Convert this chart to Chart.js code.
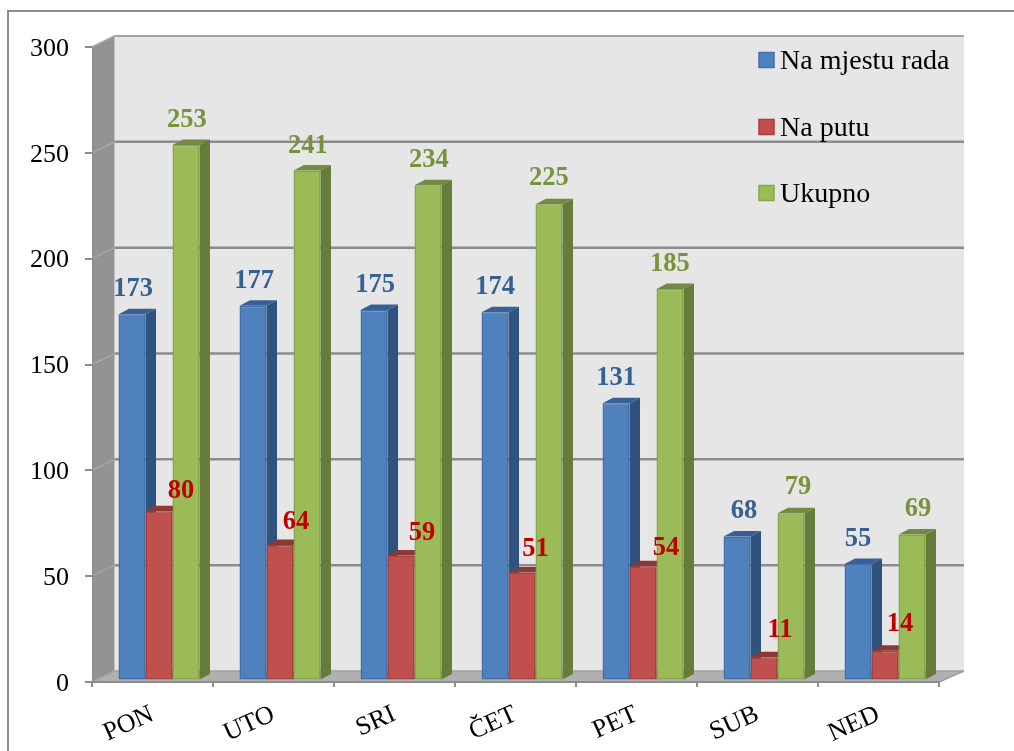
<!DOCTYPE html>
<html lang="hr">
<head>
<meta charset="utf-8">
<title>Chart</title>
<script src="https://cdn.jsdelivr.net/npm/chart.js@4"></script>
<style>html,body{margin:0;padding:0;background:#fff;overflow:hidden}canvas{display:block;filter:blur(0.3px)}</style>
</head>
<body>
<canvas id="c" width="1014" height="751"></canvas>
<script>
const categories = ['PON','UTO','SRI','ČET','PET','SUB','NED'];
const naMjestuRada = [173,177,175,174,131,68,55];
const naPutu = [80,64,59,51,54,11,14];
const ukupno = [253,241,234,225,185,79,69];
const seriesNames = ['Na mjestu rada','Na putu','Ukupno'];
const yTicksStep = 50;
const yMax = 300;

// label nudges (dx, lift above the front face of the bar)
const blueLabelNudge = [[1,25],[1,25],[1,25],[0,25],[0,25],[7,25],[0,25]];
const redLabelNudge = [[22,20],[16,23],[21,22],[13.5,23],[23,18],[16,27],[15,27]];
const greenLabelNudge = [[1,25],[1,24],[1,25],[0,26],[0,25],[7,26],[6,25]];
const labelNudges = [blueLabelNudge, redLabelNudge, greenLabelNudge];

const front = ['#4f81bd','#c0504d','#9bbb59'];
const edge = ['#3f70aa','#a5403d','#86a64a'];
const side = ['#30527e','#843330','#667c3a'];
const topFace = ['#386096','#8c3836','#728a41'];
const labelColor = ['#376092','#c00000','#77933c'];

const SERIF = '"Liberation Serif","Times New Roman",serif';
const WALL_DX = 22.5, WALL_DY = -11;
const BAR_DX = 10.5, BAR_DY = -5.5;
const SHIFT_X = 6.5, SHIFT_Y = -1.5;
const GRAY = '#8c8c8c';

function poly(ctx, pts, fill, stroke, lw){
  ctx.beginPath();
  pts.forEach((p,i)=> i ? ctx.lineTo(p[0],p[1]) : ctx.moveTo(p[0],p[1]));
  ctx.closePath();
  if(fill){ctx.fillStyle=fill;ctx.fill();}
  if(stroke){ctx.strokeStyle=stroke;ctx.lineWidth=lw||1;ctx.stroke();}
}

const scene3d = {
  id:'scene3d',
  beforeDraw(chart){
    const {ctx, chartArea:a, scales:{y}} = chart;
    const L=a.left,R=a.right,T=a.top,B=a.bottom;
    ctx.save();
    // outer frame
    ctx.strokeStyle=GRAY;ctx.lineWidth=2;
    ctx.beginPath();ctx.moveTo(8,751);ctx.lineTo(8,11);ctx.lineTo(1014,11);ctx.stroke();
    // back wall
    poly(ctx,[[L+WALL_DX,T+WALL_DY],[R+WALL_DX+2.5,T+WALL_DY],[R+WALL_DX+2.5,B+WALL_DY],[L+WALL_DX,B+WALL_DY]],'#e6e6e6');
    // side wall
    poly(ctx,[[L,T],[L+WALL_DX,T+WALL_DY],[L+WALL_DX,B+WALL_DY],[L,B]],'#939393');
    // floor
    poly(ctx,[[L,B],[L+WALL_DX,B+WALL_DY],[R+WALL_DX+2.5,B+WALL_DY],[R,B]],'#b0b0b0');
    // grid on walls
    y.ticks.forEach(t=>{
      const py=y.getPixelForValue(t.value);
      ctx.strokeStyle = '#a6a6a6';
      ctx.lineWidth=1.5;
      ctx.beginPath();ctx.moveTo(L,py);ctx.lineTo(L+WALL_DX,py+WALL_DY);ctx.stroke();
      ctx.strokeStyle=GRAY;
      ctx.lineWidth= t.value===yMax ? 1.5 : 2.5;
      if(t.value===0){ctx.lineWidth=1.5;ctx.strokeStyle='#a0a0a0';}
      ctx.beginPath();ctx.moveTo(L+WALL_DX,py+WALL_DY);ctx.lineTo(R+WALL_DX+2.5,py+WALL_DY);ctx.stroke();
    });
    // floor front-right edge
    ctx.strokeStyle='#a0a0a0';ctx.lineWidth=1.5;
    ctx.beginPath();ctx.moveTo(R,B);ctx.lineTo(R+WALL_DX+2.5,B+WALL_DY);ctx.stroke();
    ctx.restore();
  },
  beforeDatasetsDraw(chart){
    const ctx=chart.ctx;
    ctx.save();
    ctx.translate(SHIFT_X,SHIFT_Y);
    chart.data.datasets.forEach((ds,i)=>{
      chart.getDatasetMeta(i).data.forEach(b=>{
        const l=b.x-b.width/2,r=b.x+b.width/2,t=b.y,bs=b.base;
        poly(ctx,[[r,t],[r+BAR_DX,t+BAR_DY],[r+BAR_DX,bs+BAR_DY],[r,bs]],side[i]);
        poly(ctx,[[l,t],[l+BAR_DX,t+BAR_DY],[r+BAR_DX,t+BAR_DY],[r,t]],topFace[i]);
      });
    });
  },
  afterDatasetsDraw(chart){
    const ctx=chart.ctx;
    ctx.restore();
    ctx.save();
    ctx.font='bold 26.5px '+SERIF;
    ctx.textAlign='center';ctx.textBaseline='middle';
    chart.data.datasets.forEach((ds,i)=>{
      ctx.fillStyle=labelColor[i];
      chart.getDatasetMeta(i).data.forEach((b,k)=>{
        const n=labelNudges[i][k];
        ctx.fillText(String(ds.data[k]),b.x+SHIFT_X+n[0],b.y+SHIFT_Y-n[1]);
      });
    });
    ctx.restore();
  },
  afterDraw(chart){
    const ctx=chart.ctx;
    ctx.save();
    const rows=[60,127,193];
    ctx.font='28px '+SERIF;ctx.textAlign='left';ctx.textBaseline='middle';
    chart.data.datasets.forEach((ds,i)=>{
      ctx.fillStyle=front[i];ctx.strokeStyle=edge[i];ctx.lineWidth=1.5;
      ctx.fillRect(759,rows[i]-7.5,15,15);ctx.strokeRect(759,rows[i]-7.5,15,15);
      ctx.fillStyle='#000';
      ctx.fillText(ds.label,780,rows[i]+2);
    });
    ctx.restore();
  }
};

function makeSet(i,values){
  return {label:seriesNames[i],data:values,backgroundColor:front[i],borderColor:edge[i],borderWidth:1.5,borderSkipped:false,clip:false};
}

new Chart(document.getElementById('c'),{
  type:'bar',
  data:{labels:categories,datasets:[makeSet(0,naMjestuRada),makeSet(1,naPutu),makeSet(2,ukupno)]},
  plugins:[scene3d],
  options:{
    responsive:false,animation:false,
    categoryPercentage:0.669,barPercentage:1,
    layout:{padding:{left:0,right:75,top:47,bottom:0}},
    plugins:{legend:{display:false},tooltip:{enabled:false},title:{display:false}},
    scales:{
      x:{
        afterFit(s){s.height=69;},
        grid:{drawOnChartArea:false,drawTicks:true,tickLength:5,color:GRAY,lineWidth:2},
        border:{color:GRAY,width:2},
        ticks:{color:'#000',font:{family:SERIF,size:26},maxRotation:24,minRotation:24,padding:12,autoSkip:false}
      },
      y:{
        min:0,max:yMax,
        afterFit(s){s.width=92;},
        grid:{drawOnChartArea:false,drawTicks:true,tickLength:7,color:GRAY,lineWidth:2},
        border:{color:GRAY,width:1},
        ticks:{stepSize:yTicksStep,color:'#000',font:{family:SERIF,size:26},padding:16,labelOffset:2}
      }
    }
  }
});
</script>
</body>
</html>
